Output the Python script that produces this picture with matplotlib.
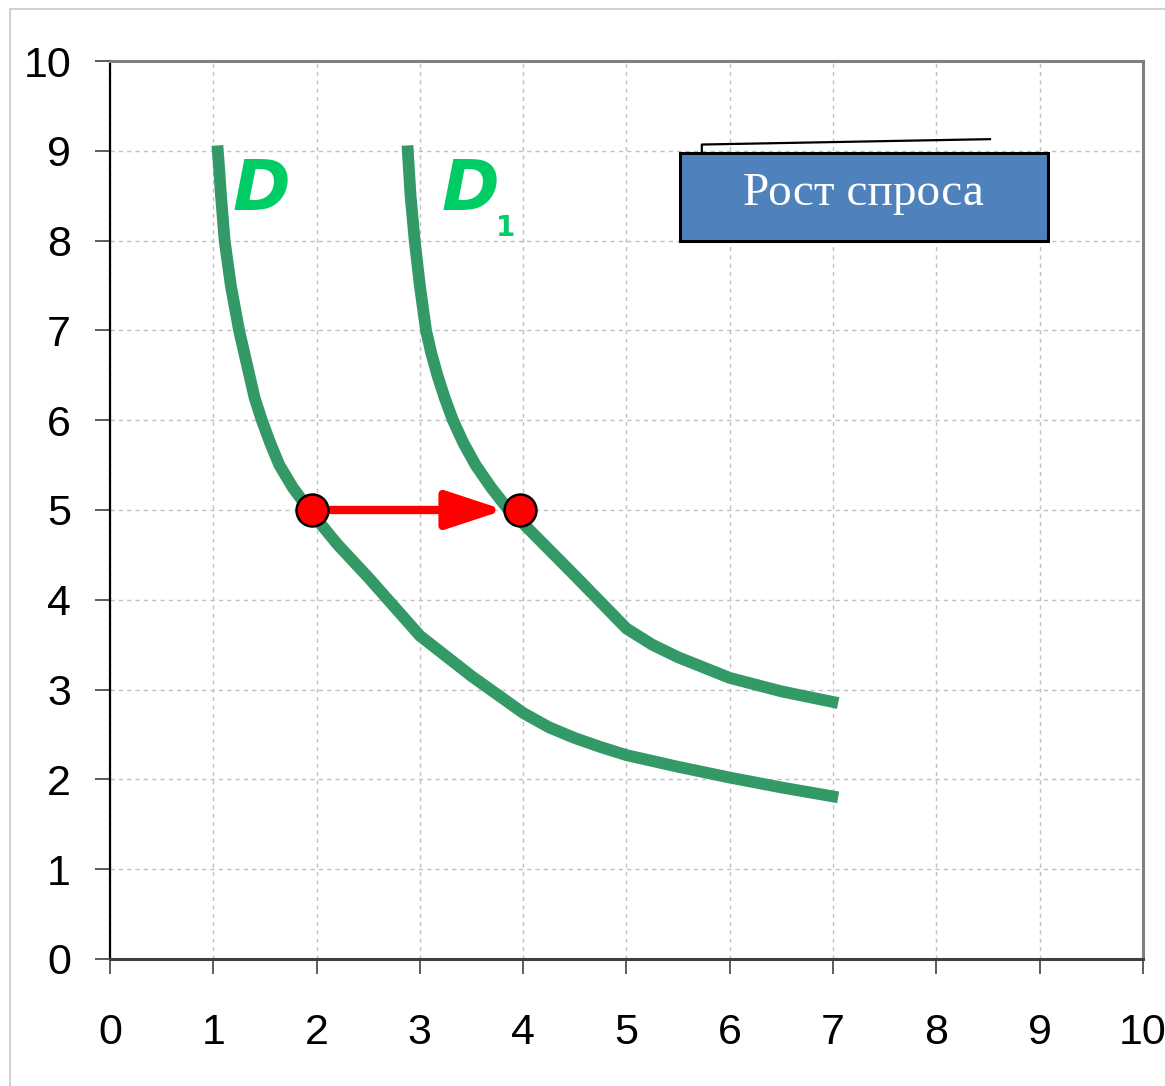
import matplotlib
matplotlib.use("Agg")
import matplotlib.pyplot as plt
from matplotlib.patches import Rectangle

# кривая спроса D
d_x = [1.04, 1.06, 1.075, 1.11, 1.14, 1.17, 1.21, 1.25, 1.30, 1.35, 1.40, 1.47, 1.55, 1.64, 1.77,
       1.93, 2.2, 2.5, 3.0, 3.5, 4.0, 4.25, 4.5, 4.75, 5.0, 5.5, 6.0, 6.5, 7.05]
d_y = [9.06, 8.75, 8.5, 8.0, 7.75, 7.5, 7.25, 7.0, 6.75, 6.5, 6.25, 6.0, 5.75, 5.5, 5.25,
       5.0, 4.62, 4.25, 3.6, 3.15, 2.74, 2.58, 2.46, 2.36, 2.27, 2.14, 2.02, 1.91, 1.8]

# кривая спроса D1 (после роста спроса)
d1_x = [2.88, 2.91, 2.95, 3.0, 3.03, 3.06, 3.11, 3.17, 3.24, 3.32, 3.42, 3.54, 3.69, 3.86,
        4.0, 4.5, 5.0, 5.25, 5.5, 6.0, 6.5, 7.05]
d1_y = [9.06, 8.5, 8.0, 7.5, 7.25, 7.0, 6.75, 6.5, 6.25, 6.0, 5.75, 5.5, 5.25, 5.0,
        4.85, 4.27, 3.68, 3.5, 3.36, 3.13, 2.98, 2.85]

# точки равновесия
pts_x = [1.96, 3.97]
pts_y = [5.0, 5.0]

ticks = list(range(0, 11))
box_text = "Рост спроса"

curve_color = "#339966"
label_color = "#00CC66"

fig = plt.figure(figsize=(11.65, 10.86), dpi=100)
ax = fig.add_axes([0.0944, 0.117, 0.8866, 0.8268])

# рамка вокруг всего рисунка
fig.patches.append(Rectangle((10 / 1165, -0.02), 1.1, 1 - 9 / 1086 + 0.02,
                             transform=fig.transFigure, fill=False,
                             edgecolor="#c8c8c8", lw=1.2))

ax.plot(d_x, d_y, color=curve_color, lw=8.5, solid_capstyle="butt",
        solid_joinstyle="round", zorder=3)
ax.plot(d1_x, d1_y, color=curve_color, lw=8.5, solid_capstyle="butt",
        solid_joinstyle="round", zorder=3)

# стрелка сдвига
ax.annotate("", xy=(3.82, 5.0), xytext=(2.12, 5.0),
            arrowprops=dict(arrowstyle="-|>,head_length=3.5,head_width=1.15",
                            color="red", lw=6, shrinkA=0, shrinkB=0),
            zorder=4)
ax.plot(pts_x, pts_y, "o", ms=23, mfc="red", mec="black", mew=1.8, zorder=5)

# подписи кривых
ax.text(1.47, 8.56, "D", color=label_color, fontsize=50, fontweight="bold",
        fontstyle="italic", ha="center", va="center", zorder=4)
ax.text(3.49, 8.56, "D", color=label_color, fontsize=50, fontweight="bold",
        fontstyle="italic", ha="center", va="center", zorder=4)
ax.text(3.83, 8.14, "1", color=label_color, fontsize=20, fontweight="bold",
        ha="center", va="center", zorder=4)

# выноска с текстом
ax.plot([5.73, 5.73, 8.52], [8.98, 9.07, 9.13], color="black", lw=1.6, zorder=4)
ax.add_patch(Rectangle((5.52, 8.0), 3.56, 0.98, facecolor="#4F81BD",
                       edgecolor="black", lw=2.2, zorder=5))
ax.text(7.29, 8.52, box_text, color="white", fontsize=34,
        family="Liberation Serif", ha="center", va="center", zorder=6)

ax.set_xlim(0, 10)
ax.set_ylim(0, 10)
ax.set_xticks(ticks)
ax.set_yticks(ticks)
ax.set_xticklabels([str(t) for t in ticks], family="Liberation Sans", fontsize=31)
ax.set_yticklabels([str(t) for t in ticks], family="Liberation Sans", fontsize=31)
ax.tick_params(axis="both", direction="out", length=11, width=1.2, color="#404040")
ax.tick_params(axis="x", pad=28)
ax.tick_params(axis="y", pad=17)

ax.grid(True, color="#c0c0c0", linestyle=(0, (3, 3)), lw=1.0)
ax.set_axisbelow(True)

ax.spines["left"].set_color("black")
ax.spines["left"].set_linewidth(1.6)
ax.spines["bottom"].set_color("#404040")
ax.spines["bottom"].set_linewidth(2.2)
ax.spines["top"].set_color("#808080")
ax.spines["top"].set_linewidth(2.2)
ax.spines["right"].set_color("#808080")
ax.spines["right"].set_linewidth(2.2)

fig.savefig("out.png", dpi=100)
